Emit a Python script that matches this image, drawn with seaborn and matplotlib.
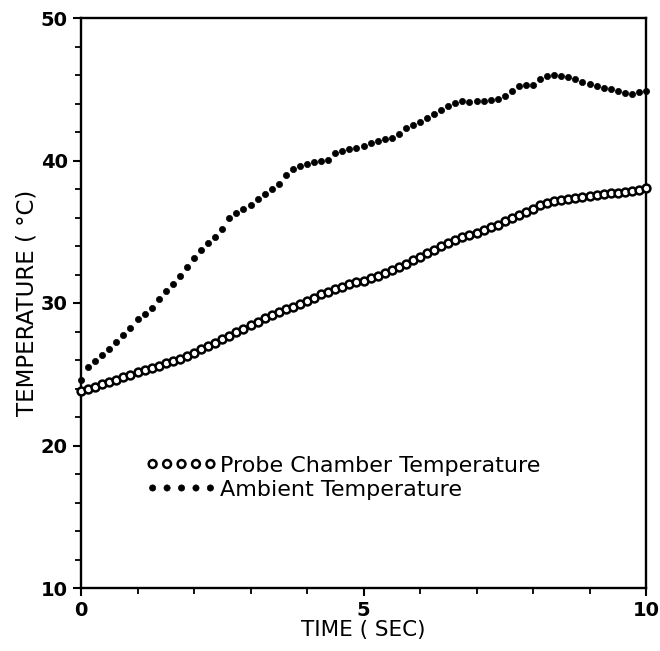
import numpy as np
import pandas as pd
import matplotlib
matplotlib.use("Agg")
import matplotlib.pyplot as plt
import seaborn as sns
from matplotlib.ticker import MultipleLocator

# ---- data ----
TIME_SEC = np.round(np.arange(81) * 0.125, 3)

PROBE_TEMP = [
    23.8, 23.95, 24.1, 24.3, 24.45, 24.6, 24.8, 24.95, 25.15, 25.3,
    25.45, 25.6, 25.8, 25.95, 26.1, 26.3, 26.5, 26.75, 27.0, 27.2,
    27.45, 27.7, 27.95, 28.2, 28.45, 28.7, 28.95, 29.15, 29.4, 29.6,
    29.75, 29.95, 30.15, 30.35, 30.6, 30.8, 31.0, 31.15, 31.3, 31.45,
    31.55, 31.75, 31.9, 32.1, 32.3, 32.5, 32.75, 33.0, 33.25, 33.5,
    33.75, 34.0, 34.2, 34.4, 34.6, 34.75, 34.9, 35.1, 35.3, 35.5,
    35.75, 36.0, 36.2, 36.4, 36.6, 36.85, 37.05, 37.15, 37.2, 37.3,
    37.35, 37.45, 37.5, 37.55, 37.65, 37.7, 37.75, 37.8, 37.85, 37.95,
    38.05,
]

AMBIENT_TEMP = [
    24.6, 25.5, 25.9, 26.35, 26.8, 27.25, 27.75, 28.25, 28.85, 29.25,
    29.65, 30.3, 30.85, 31.35, 31.9, 32.5, 33.15, 33.75, 34.2, 34.65,
    35.2, 35.95, 36.3, 36.6, 36.9, 37.3, 37.65, 38.0, 38.35, 38.95,
    39.4, 39.6, 39.75, 39.9, 40.0, 40.05, 40.5, 40.7, 40.8, 40.9,
    41.05, 41.2, 41.4, 41.5, 41.55, 41.85, 42.25, 42.5, 42.7, 43.0,
    43.25, 43.55, 43.8, 44.05, 44.15, 44.1, 44.15, 44.2, 44.25, 44.35,
    44.55, 44.9, 45.25, 45.3, 45.3, 45.75, 45.95, 46.0, 45.95, 45.85,
    45.75, 45.5, 45.35, 45.2, 45.1, 45.0, 44.85, 44.75, 44.7, 44.8,
    44.9,
]

SERIES_LABELS = ["Probe Chamber Temperature", "Ambient Temperature"]
X_TICKS = [0, 5, 10]
Y_TICKS = [10, 20, 30, 40, 50]
X_LABEL = "TIME ( SEC)"
Y_LABEL = "TEMPERATURE ( °C)"

# ---- figure ----
sns.set_theme(style="ticks")
plt.rcParams["font.family"] = ["DejaVu Sans"]

fig = plt.figure(figsize=(6.6, 6.51), dpi=100)
ax = fig.add_axes([81 / 660, 1 - 588 / 651, (646 - 81) / 660, (588 - 18) / 651])

df_probe = pd.DataFrame({"t": TIME_SEC, "T": PROBE_TEMP})
df_amb = pd.DataFrame({"t": TIME_SEC, "T": AMBIENT_TEMP})

sns.scatterplot(data=df_probe, x="t", y="T", ax=ax, marker="o", s=32,
                facecolor="white", edgecolor="black", linewidth=1.8,
                label=SERIES_LABELS[0], zorder=3, clip_on=False)
sns.scatterplot(data=df_amb, x="t", y="T", ax=ax, marker="o", s=20,
                color="black", edgecolor="black", linewidth=0.5,
                label=SERIES_LABELS[1], zorder=3, clip_on=False)

ax.set_xlim(0, 10)
ax.set_ylim(10, 50)
ax.set_xticks(X_TICKS)
ax.set_yticks(Y_TICKS)
ax.xaxis.set_minor_locator(MultipleLocator(1))
ax.yaxis.set_minor_locator(MultipleLocator(2))

for side in ["left", "right", "top", "bottom"]:
    ax.spines[side].set_visible(True)
    ax.spines[side].set_linewidth(1.7)
    ax.spines[side].set_color("black")

ax.tick_params(axis="both", which="major", direction="out", length=6,
               width=1.5, color="black", labelsize=14, pad=3.5,
               top=False, right=False, labelcolor="black")
ax.tick_params(axis="both", which="minor", direction="out", length=4,
               width=1.3, color="black", top=False, right=False)
for lbl in ax.get_xticklabels() + ax.get_yticklabels():
    lbl.set_fontweight("bold")

ax.set_xlabel(X_LABEL, fontsize=15.5, labelpad=0, color="black")
ax.set_ylabel(Y_LABEL, fontsize=16.5, labelpad=2, color="black")

leg = ax.legend(loc="upper left", bbox_to_anchor=(0.115, 0.232),
                frameon=False, scatterpoints=5, scatteryoffsets=[0.5],
                handlelength=3.2, handletextpad=0.15, labelspacing=0.18,
                borderpad=0, borderaxespad=0, fontsize=16)
for txt in leg.get_texts():
    txt.set_color("black")

fig.savefig("out.png", dpi=100, facecolor="white")
